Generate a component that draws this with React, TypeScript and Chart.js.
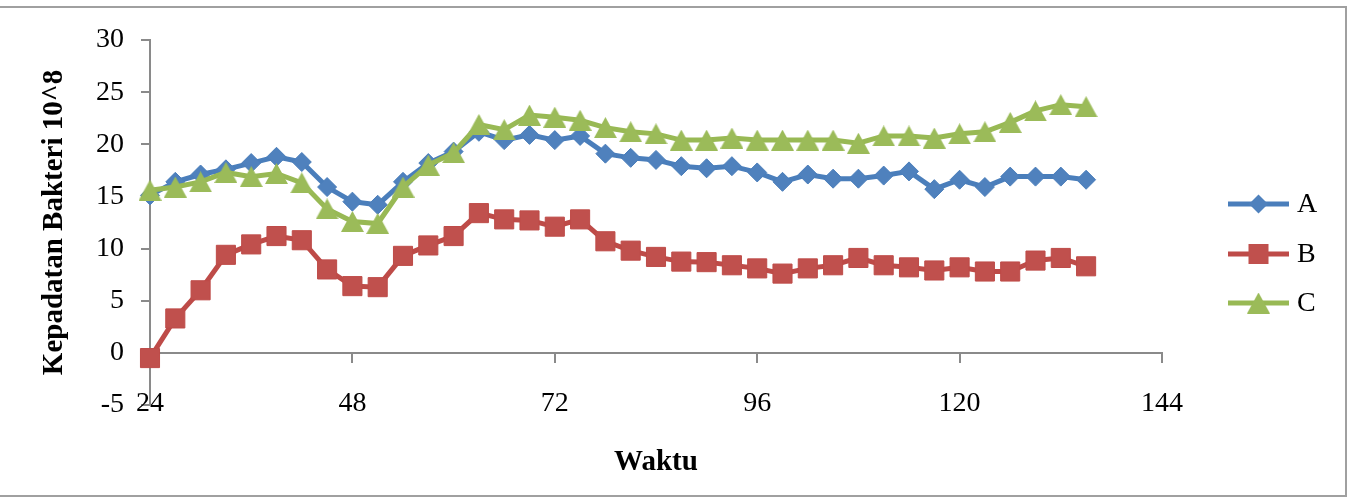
import React, { useEffect, useRef } from "react";
import { Chart, registerables } from "chart.js";

Chart.register(...registerables);

// ---- data ----
const hours = [24, 27, 30, 33, 36, 39, 42, 45, 48, 51, 54, 57, 60, 63, 66, 69, 72, 75, 78, 81, 84, 87, 90, 93, 96, 99, 102, 105, 108, 111, 114, 117, 120, 123, 126, 129, 132, 135];
const seriesA = [15.1, 16.4, 17.1, 17.6, 18.2, 18.8, 18.3, 15.9, 14.5, 14.2, 16.4, 18.2, 19.3, 21.2, 20.4, 20.9, 20.4, 20.8, 19.1, 18.7, 18.5, 17.9, 17.7, 17.9, 17.3, 16.4, 17.1, 16.7, 16.7, 17.0, 17.4, 15.7, 16.6, 15.9, 16.9, 16.9, 16.9, 16.6];
const seriesB = [-0.5, 3.3, 6.0, 9.4, 10.4, 11.2, 10.8, 8.0, 6.4, 6.3, 9.3, 10.3, 11.2, 13.4, 12.8, 12.7, 12.1, 12.8, 10.7, 9.8, 9.2, 8.75, 8.7, 8.4, 8.1, 7.6, 8.1, 8.4, 9.1, 8.4, 8.2, 7.9, 8.2, 7.8, 7.8, 8.85, 9.1, 8.3];
const seriesC = [15.6, 15.9, 16.4, 17.3, 16.9, 17.2, 16.3, 13.8, 12.6, 12.4, 15.9, 18.0, 19.2, 21.9, 21.4, 22.8, 22.6, 22.3, 21.6, 21.2, 21.0, 20.4, 20.4, 20.6, 20.4, 20.4, 20.4, 20.4, 20.1, 20.8, 20.8, 20.6, 21.0, 21.2, 22.1, 23.2, 23.8, 23.6];
const seriesNames = ["A", "B", "C"];
const xMin = 24;
const xMax = 144;
const xStep = 24;
const yMin = -5;
const yMax = 30;
const yStep = 5;
const xTitle = "Waktu";
const yTitle = "Kepadatan Bakteri 10^8";

// ---- styles ----
const FONT = "'Liberation Serif', 'Times New Roman', serif";
const AXIS = "#8a8a8a";
const BLUE_LINE = "#4A7EBB";
const BLUE_FILL = "#4F81BD";
const RED_LINE = "#BE4B48";
const RED_FILL = "#C0504D";
const GREEN_LINE = "#98B954";
const GREEN_FILL = "#9BBB59";
const LINE_W = 5;

function makeTriangle(color: string) {
  const c = document.createElement("canvas");
  c.width = 23;
  c.height = 21;
  const g = c.getContext("2d")!;
  g.fillStyle = color;
  g.beginPath();
  g.moveTo(11.5, 0);
  g.lineTo(23, 21);
  g.lineTo(0, 21);
  g.closePath();
  g.fill();
  return c;
}

export default function App() {
  const ref = useRef<HTMLCanvasElement | null>(null);

  useEffect(() => {
    if (!ref.current) return;
    const tri = makeTriangle(GREEN_FILL);

    const toPts = (vals: number[]) => hours.map((h, i) => ({ x: h, y: vals[i] }));

    const framePlugin = {
      id: "frameAndLegend",
      beforeDraw(chart: any) {
        const ctx = chart.ctx;
        ctx.save();
        ctx.fillStyle = "#ffffff";
        ctx.fillRect(0, 0, chart.width, chart.height);
        ctx.restore();
      },
      afterDraw(chart: any) {
        const ctx = chart.ctx;
        ctx.save();
        // outer frame
        ctx.strokeStyle = "#a0a0a0";
        ctx.lineWidth = 2;
        ctx.beginPath();
        ctx.moveTo(0, 7);
        ctx.lineTo(1346, 7);
        ctx.lineTo(1346, 496);
        ctx.lineTo(0, 496);
        ctx.stroke();

        // legend
        const items = [
          { name: seriesNames[0], line: BLUE_LINE, fill: BLUE_FILL, kind: "diamond", y: 204 },
          { name: seriesNames[1], line: RED_LINE, fill: RED_FILL, kind: "square", y: 254 },
          { name: seriesNames[2], line: GREEN_LINE, fill: GREEN_FILL, kind: "triangle", y: 303 },
        ];
        for (const it of items) {
          ctx.strokeStyle = it.line;
          ctx.lineWidth = LINE_W;
          ctx.beginPath();
          ctx.moveTo(1228, it.y);
          ctx.lineTo(1289, it.y);
          ctx.stroke();
          const cx = 1258.5;
          ctx.fillStyle = it.fill;
          if (it.kind === "diamond") {
            ctx.beginPath();
            ctx.moveTo(cx, it.y - 9.5);
            ctx.lineTo(cx + 9.5, it.y);
            ctx.lineTo(cx, it.y + 9.5);
            ctx.lineTo(cx - 9.5, it.y);
            ctx.closePath();
            ctx.fill();
          } else if (it.kind === "square") {
            ctx.fillRect(cx - 10, it.y - 10, 20, 20);
          } else {
            ctx.drawImage(tri, cx - 11.5, it.y - 10.5);
          }
          ctx.fillStyle = "#000";
          ctx.font = `28px ${FONT}`;
          ctx.textAlign = "left";
          ctx.textBaseline = "middle";
          ctx.fillText(it.name, 1297, it.y + 1);
        }
        ctx.restore();
      },
    };

    const chart = new Chart(ref.current, {
      type: "line",
      data: {
        datasets: [
          {
            label: seriesNames[0],
            data: toPts(seriesA),
            borderColor: BLUE_LINE,
            backgroundColor: BLUE_FILL,
            pointBackgroundColor: BLUE_FILL,
            pointBorderColor: BLUE_LINE,
            borderWidth: LINE_W,
            pointStyle: "rectRot",
            pointRadius: 9.5,
            pointBorderWidth: 1,
            tension: 0,
            clip: false,
            order: 2,
          },
          {
            label: seriesNames[1],
            data: toPts(seriesB),
            borderColor: RED_LINE,
            backgroundColor: RED_FILL,
            pointBackgroundColor: RED_FILL,
            pointBorderColor: RED_LINE,
            borderWidth: LINE_W,
            pointStyle: "rect",
            pointRadius: 13.5,
            pointBorderWidth: 1,
            tension: 0,
            clip: false,
            order: 1,
          },
          {
            label: seriesNames[2],
            data: toPts(seriesC),
            borderColor: GREEN_LINE,
            backgroundColor: GREEN_FILL,
            borderWidth: LINE_W,
            pointStyle: tri as any,
            pointRadius: 11,
            tension: 0,
            clip: false,
            order: 0,
          },
        ] as any,
      },
      options: {
        animation: false,
        responsive: false,
        devicePixelRatio: 1,
        layout: { padding: { left: 0, top: 40, right: 194, bottom: 93 } },
        plugins: { legend: { display: false }, tooltip: { enabled: false } },
        scales: {
          x: {
            type: "linear",
            min: xMin,
            max: xMax,
            position: { y: 0 } as any,
            ticks: {
              stepSize: xStep,
              font: { family: FONT, size: 28 },
              color: "#000",
              padding: 25,
              maxRotation: 0,
              autoSkip: false,
            },
            grid: { drawOnChartArea: false, drawTicks: true, tickLength: 9, color: AXIS, lineWidth: 2 },
            border: { color: AXIS, width: 2 },
            title: {
              display: true,
              text: xTitle,
              font: { family: FONT, size: 29, weight: "bold" },
              color: "#000",
              padding: 0,
            },
          },
          y: {
            type: "linear",
            min: yMin,
            max: yMax,
            ticks: {
              stepSize: yStep,
              font: { family: FONT, size: 28 },
              color: "#000",
              padding: 17,
            },
            grid: { drawOnChartArea: false, drawTicks: true, tickLength: 9, color: AXIS, lineWidth: 2 },
            border: { color: AXIS, width: 2 },
            title: {
              display: true,
              text: yTitle,
              font: { family: FONT, size: 29, weight: "bold" },
              color: "#000",
              padding: { top: 37, bottom: 0 },
            },
            afterFit: (s: any) => {
              s.width = 150;
            },
          },
        },
      } as any,
      plugins: [framePlugin],
    });

    return () => chart.destroy();
  }, []);

  return (
    <div style={{ position: "fixed", left: 0, top: 0, width: 1356, height: 498, background: "#fff" }}>
      <canvas ref={ref} width={1356} height={498} style={{ width: 1356, height: 498, display: "block" }} />
    </div>
  );
}
